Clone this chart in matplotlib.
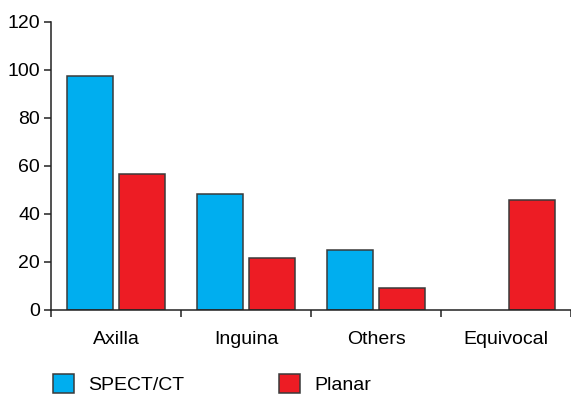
import numpy as np
import matplotlib
matplotlib.use("Agg")
import matplotlib.pyplot as plt

plt.rcParams["font.family"] = ["Liberation Sans", "DejaVu Sans"]

categories = ["Axilla", "Inguina", "Others", "Equivocal"]
spect_ct = [97.5, 48.3, 25.1, 0]
planar = [56.7, 21.7, 9.3, 45.7]
series_names = ["SPECT/CT", "Planar"]

BLUE = "#00AEEF"
RED = "#ED1C24"
EDGE = "#3a3a3a"

fig = plt.figure(figsize=(5.71, 3.94), dpi=100)
ax = fig.add_axes([51 / 571, 1 - 310 / 394, 520 / 571, 288 / 394])

x = np.arange(len(categories))
w = 0.36
b1 = ax.bar(x - 0.2, spect_ct, w, color=BLUE, edgecolor=EDGE, linewidth=1.1)
b2 = ax.bar(x + 0.2, planar, w, color=RED, edgecolor=EDGE, linewidth=1.1)
# no visible bar for zero value
b1[3].set_visible(False)

ax.set_xlim(-0.5, 3.5)
ax.set_ylim(0, 120)
ax.set_yticks(range(0, 121, 20))
ax.set_xticks(x)
ax.set_xticklabels(categories)
ax.set_xticks(np.arange(-0.5, 3.6, 1.0), minor=True)
ax.tick_params(axis="x", which="major", length=0, pad=15, labelsize=14)
ax.tick_params(axis="x", which="minor", length=5, width=1.1, color="#222222")
ax.tick_params(axis="y", length=5, width=1.1, pad=3, labelsize=14, color="#222222")

for s in ["top", "right"]:
    ax.spines[s].set_visible(False)
for s in ["left", "bottom"]:
    ax.spines[s].set_linewidth(1.1)
    ax.spines[s].set_color("#222222")

fig.legend(
    [b1[0], b2[0]],
    series_names,
    loc="center left",
    bbox_to_anchor=(53 / 571, 1 - 384 / 394),
    ncol=2,
    frameon=False,
    fontsize=14,
    borderpad=0,
    borderaxespad=0,
    handlelength=1.08,
    handleheight=1.15,
    handletextpad=0.72,
    columnspacing=4.9,
)

fig.savefig("out.png", dpi=100)
